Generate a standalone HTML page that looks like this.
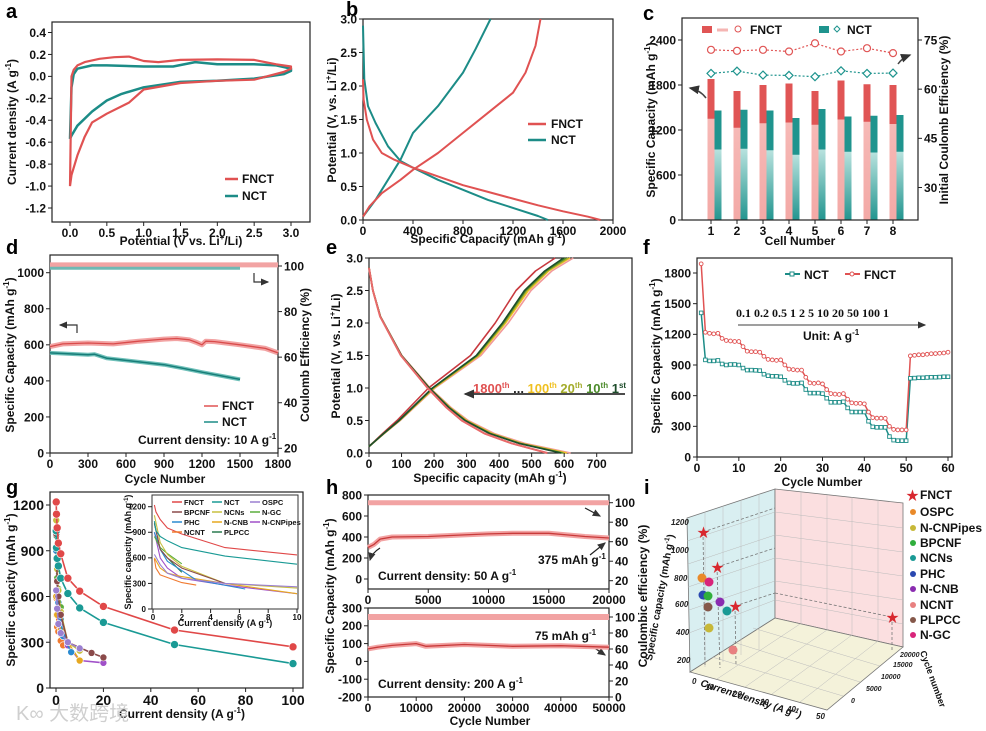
<!DOCTYPE html>
<html><head><meta charset="utf-8">
<style>
html,body{margin:0;padding:0;background:#fff;}
svg{display:block;font-family:"Liberation Sans","Noto Sans CJK SC",sans-serif;font-weight:bold;}
.t{font-size:12px;fill:#111;}
.s{font-size:9px;fill:#111;}
.p{font-size:20px;fill:#000;}
</style></head>
<body>
<svg id="fig" width="986" height="731" viewBox="0 0 986 731">
<defs>
<linearGradient id="tealg" x1="0" y1="0" x2="0" y2="1"><stop offset="0" stop-color="#b8e2de"/><stop offset="1" stop-color="#22958f"/></linearGradient>
<linearGradient id="pinkg" x1="0" y1="0" x2="0" y2="1"><stop offset="0" stop-color="#f6b9b6"/><stop offset="1" stop-color="#f3a9a6"/></linearGradient>
<marker id="arr" markerWidth="8" markerHeight="8" refX="6" refY="3" orient="auto"><path d="M0,0 L7,3 L0,6 z" fill="#333"/></marker>
</defs>
<!-- panel letters -->
<text class="p" x="6" y="18">a</text>
<text class="p" x="346" y="16">b</text>
<text class="p" x="643" y="20">c</text>
<text class="p" x="6" y="254">d</text>
<text class="p" x="326" y="254">e</text>
<text class="p" x="643" y="254">f</text>
<text class="p" x="6" y="494">g</text>
<text class="p" x="326" y="494">h</text>
<text class="p" x="644" y="494">i</text>

<!-- a titles -->
<text class="t" transform="translate(16,122) rotate(-90)" text-anchor="middle">Current density (A g<tspan dy="-5" font-size="8">-1</tspan><tspan dy="5">)</tspan></text>
<text class="t" x="181" y="245" text-anchor="middle">Potential (V vs. Li<tspan dy="-5" font-size="8">+</tspan><tspan dy="5">/Li)</tspan></text>
<line x1="225" y1="179" x2="238" y2="179" stroke="#e05252" stroke-width="2.5"/>
<text class="t" x="242" y="183">FNCT</text>
<line x1="225" y1="196" x2="238" y2="196" stroke="#1c8c87" stroke-width="2.5"/>
<text class="t" x="242" y="200">NCT</text>

<!-- b titles -->
<text class="t" transform="translate(336,120) rotate(-90)" text-anchor="middle">Potential (V, vs. Li<tspan dy="-5" font-size="8">+</tspan><tspan dy="5">/Li)</tspan></text>
<text class="t" x="488" y="243" text-anchor="middle">Specific Capacity (mAh g<tspan dy="-5" font-size="8">-1</tspan><tspan dy="5">)</tspan></text>
<line x1="528" y1="124" x2="546" y2="124" stroke="#e05252" stroke-width="2.5"/>
<text class="t" x="551" y="128">FNCT</text>
<line x1="528" y1="140" x2="546" y2="140" stroke="#1c8c87" stroke-width="2.5"/>
<text class="t" x="551" y="144">NCT</text>

<!-- c titles -->
<text class="t" transform="translate(655,120) rotate(-90)" text-anchor="middle">Specific Capacity (mAh g<tspan dy="-5" font-size="8">-1</tspan><tspan dy="5">)</tspan></text>
<text class="t" transform="translate(948,120) rotate(-90)" text-anchor="middle">Initial Coulomb Efficiency (%)</text>
<text class="t" x="800" y="245" text-anchor="middle">Cell Number</text>
<rect x="702" y="26" width="10" height="7" fill="#e05555"/>
<line x1="717" y1="30" x2="728" y2="30" stroke="#f5b5b3" stroke-width="3"/>
<circle cx="738" cy="29" r="3" fill="none" stroke="#e05555"/>
<text class="t" x="750" y="34">FNCT</text>
<rect x="819" y="26" width="10" height="7" fill="#1f948e"/>
<path d="M837,26 l3,3 l-3,3 l-3,-3 z" fill="none" stroke="#1f948e"/>
<text class="t" x="847" y="34">NCT</text>
<path d="M706,98 Q700,90 690,88" fill="none" stroke="#444" stroke-width="1.5" marker-end="url(#arr)"/>
<path d="M898,64 Q902,58 910,55" fill="none" stroke="#444" stroke-width="1.5" marker-end="url(#arr)"/>

<!-- d titles -->
<text class="t" transform="translate(14,355) rotate(-90)" text-anchor="middle">Specific Capacity (mAh g<tspan dy="-5" font-size="8">-1</tspan><tspan dy="5">)</tspan></text>
<text class="t" transform="translate(309,355) rotate(-90)" text-anchor="middle">Coulomb Efficiency (%)</text>
<text class="t" x="165" y="483" text-anchor="middle">Cycle Number</text>
<line x1="204" y1="406" x2="218" y2="406" stroke="#e05252" stroke-width="1.5"/>
<text class="t" x="222" y="410">FNCT</text>
<line x1="204" y1="422" x2="218" y2="422" stroke="#1c8c87" stroke-width="1.5"/>
<text class="t" x="222" y="426">NCT</text>
<text class="t" x="138" y="444">Current density: 10 A g<tspan dy="-5" font-size="8">-1</tspan></text>
<path d="M77,333 L77,325 L60,325" fill="none" stroke="#333" stroke-width="1.2" marker-end="url(#arr)"/>
<path d="M254,273 L254,282 L268,282" fill="none" stroke="#333" stroke-width="1.2" marker-end="url(#arr)"/>

<!-- e titles -->
<text class="t" transform="translate(340,356) rotate(-90)" text-anchor="middle">Potential (V, vs. Li<tspan dy="-5" font-size="8">+</tspan><tspan dy="5">/Li)</tspan></text>
<text class="t" x="490" y="482" text-anchor="middle">Specific capacity (mAh g<tspan dy="-5" font-size="8">-1</tspan><tspan dy="5">)</tspan></text>
<text x="473" y="393" font-size="13"><tspan fill="#e05252">1800<tspan dy="-5" font-size="8">th</tspan></tspan><tspan dy="5" fill="#222"> ... </tspan><tspan fill="#f0c020">100<tspan dy="-5" font-size="8">th</tspan></tspan><tspan dy="5" fill="#a4ac2c"> 20<tspan dy="-5" font-size="8">th</tspan></tspan><tspan dy="5" fill="#4b8a2a"> 10<tspan dy="-5" font-size="8">th</tspan></tspan><tspan dy="5" fill="#1e4d2b"> 1<tspan dy="-5" font-size="8">st</tspan></tspan></text>
<line x1="625" y1="394" x2="465" y2="394" stroke="#111" stroke-width="1.5" marker-end="url(#arr)"/>

<!-- f titles -->
<text class="t" transform="translate(660,356) rotate(-90)" text-anchor="middle">Specific Capacity (mAh g<tspan dy="-5" font-size="8">-1</tspan><tspan dy="5">)</tspan></text>
<text class="t" x="822" y="486" text-anchor="middle">Cycle Number</text>
<line x1="785" y1="274" x2="800" y2="274" stroke="#1c8c87" stroke-width="2"/>
<rect x="790" y="272" width="4" height="4" fill="#fff" stroke="#1c8c87"/>
<text class="t" x="804" y="279">NCT</text>
<line x1="845" y1="274" x2="860" y2="274" stroke="#e05252" stroke-width="2"/>
<circle cx="852" cy="274" r="2" fill="#fff" stroke="#e05252"/>
<text class="t" x="864" y="279">FNCT</text>
<text x="736" y="317" font-family="Liberation Serif,serif" font-size="12" fill="#111">0.1 0.2 0.5 1 2 5 10 20 50 100 1</text>
<line x1="738" y1="325" x2="925" y2="325" stroke="#666" stroke-width="1.2" marker-end="url(#arr)"/>
<text class="t" x="803" y="340">Unit: A g<tspan dy="-5" font-size="8">-1</tspan></text>

<!-- g titles -->
<text class="t" transform="translate(15,590) rotate(-90)" text-anchor="middle" font-size="13">Specific capacity (mAh g<tspan dy="-5" font-size="8">-1</tspan><tspan dy="5">)</tspan></text>
<text class="t" x="182" y="718" text-anchor="middle" font-size="13">Current density (A g<tspan dy="-5" font-size="8">-1</tspan><tspan dy="5">)</tspan></text>
<text x="16" y="720" font-size="20" fill="#cfcfcf" font-weight="normal">K∞ 大数跨境</text>
<text class="s" transform="translate(131,552) rotate(-90)" text-anchor="middle" font-size="8">Specific capacity (mAh g<tspan dy="-3" font-size="6">-1</tspan><tspan dy="3">)</tspan></text>
<text class="s" x="225" y="626" text-anchor="middle" font-size="8">Current density (A g<tspan dy="-3" font-size="6">-1</tspan><tspan dy="3">)</tspan></text>

<!-- h titles -->
<text class="t" transform="translate(334,596) rotate(-90)" text-anchor="middle">Specific Capacity (mAh g<tspan dy="-5" font-size="8">-1</tspan><tspan dy="5">)</tspan></text>
<text class="t" transform="translate(647,596) rotate(-90)" text-anchor="middle">Coulombic efficiency (%)</text>
<text class="t" x="490" y="725" text-anchor="middle">Cycle Number</text>
<text class="t" x="378" y="580">Current density: 50 A g<tspan dy="-5" font-size="8">-1</tspan></text>
<text class="t" x="538" y="564">375 mAh g<tspan dy="-5" font-size="8">-1</tspan></text>
<text class="t" x="378" y="688">Current density: 200 A g<tspan dy="-5" font-size="8">-1</tspan></text>
<text class="t" x="535" y="640">75 mAh g<tspan dy="-5" font-size="8">-1</tspan></text>
<line x1="590" y1="555" x2="605" y2="543" stroke="#222" stroke-width="1.2" marker-end="url(#arr)"/>
<line x1="590" y1="645" x2="605" y2="655" stroke="#222" stroke-width="1.2" marker-end="url(#arr)"/>
<path d="M380,548 Q372,553 370,560" fill="none" stroke="#222" stroke-width="1.2" marker-end="url(#arr)"/>
<line x1="585" y1="508" x2="600" y2="516" stroke="#222" stroke-width="1.2" marker-end="url(#arr)"/>

<!-- i 3D chart -->
<g>
<polygon points="687,518 775,489 775,618 690,672" fill="#d9eff1" stroke="#777" stroke-width="0.8"/>
<polygon points="775,489 903,503 903,647 775,618" fill="#fbdfe0" stroke="#777" stroke-width="0.8"/>
<polygon points="775,618 903,647 827,710 690,672" fill="#f4f2da" stroke="#777" stroke-width="0.8"/>
<g stroke="#bbb" stroke-width="0.5">
<line x1="687" y1="541" x2="775" y2="512"/><line x1="688" y1="564" x2="775" y2="535"/><line x1="688" y1="587" x2="775" y2="558"/><line x1="689" y1="610" x2="775" y2="581"/><line x1="689" y1="633" x2="775" y2="600"/>
<line x1="705" y1="512" x2="705" y2="667"/><line x1="723" y1="506" x2="723" y2="662"/><line x1="741" y1="500" x2="741" y2="655"/><line x1="759" y1="494" x2="759" y2="650"/>
<line x1="775" y1="512" x2="903" y2="528"/><line x1="775" y1="535" x2="903" y2="552"/><line x1="775" y1="558" x2="903" y2="576"/><line x1="775" y1="581" x2="903" y2="600"/><line x1="775" y1="600" x2="903" y2="624"/>
<line x1="801" y1="492" x2="801" y2="624"/><line x1="827" y1="495" x2="827" y2="630"/><line x1="852" y1="497" x2="852" y2="635"/><line x1="878" y1="500" x2="878" y2="641"/>
<line x1="800" y1="624" x2="717" y2="679"/><line x1="827" y1="630" x2="745" y2="687"/><line x1="852" y1="635" x2="772" y2="694"/><line x1="878" y1="641" x2="800" y2="702"/>
<line x1="753" y1="628" x2="880" y2="666"/><line x1="733" y1="642" x2="860" y2="682"/><line x1="712" y1="657" x2="843" y2="696"/>
</g>
<g stroke="#777" stroke-width="0.8" stroke-dasharray="3,2" fill="none">
<line x1="703" y1="532" x2="775" y2="508"/><line x1="703" y1="532" x2="705" y2="665"/>
<line x1="717" y1="567" x2="775" y2="548"/><line x1="717" y1="567" x2="720" y2="668"/>
<line x1="735" y1="606" x2="775" y2="593"/><line x1="735" y1="606" x2="736" y2="665"/>
<line x1="775" y1="593" x2="892" y2="617"/><line x1="892" y1="617" x2="892" y2="650"/>
</g>
<g font-size="13" fill="#d8282f">
<text x="697" y="537">★</text><text x="711" y="572">★</text><text x="729" y="611">★</text><text x="886" y="622">★</text>
</g>
<circle cx="702" cy="578" r="4.5" fill="#e98a2a"/>
<circle cx="709" cy="582" r="4.5" fill="#d8247a"/>
<circle cx="703" cy="595" r="4.5" fill="#2a48b0"/>
<circle cx="708" cy="596" r="4.5" fill="#2fae3c"/>
<circle cx="720" cy="602" r="4.5" fill="#8a2cb0"/>
<circle cx="708" cy="607" r="4.5" fill="#85584a"/>
<circle cx="727" cy="611" r="4.5" fill="#1a9a95"/>
<circle cx="709" cy="628" r="4.5" fill="#c7b838"/>
<circle cx="733" cy="650" r="4.5" fill="#e88080"/>
<g font-size="8" fill="#222" font-style="italic">
<text x="671" y="525">1200</text><text x="671" y="553">1000</text><text x="674" y="581">800</text><text x="675" y="607">600</text><text x="676" y="635">400</text><text x="677" y="663">200</text>
</g>
<text transform="translate(663,598) rotate(-80)" text-anchor="middle" font-size="10" fill="#111">Specific capacity (mAh g<tspan dy="-4" font-size="7">-1</tspan><tspan dy="4">)</tspan></text>
<text transform="translate(750,702) rotate(18)" text-anchor="middle" font-size="10" font-style="italic" fill="#111">Current density (A g<tspan dy="-4" font-size="7">-1</tspan><tspan dy="4">)</tspan></text>
<g font-size="8" fill="#222" font-style="italic">
<text x="692" y="684">0</text><text x="705" y="690">10</text><text x="733" y="697">20</text><text x="760" y="705">30</text><text x="787" y="712">40</text><text x="816" y="719">50</text>
</g>
<g font-size="7" fill="#222" font-style="italic">
<text x="900" y="657">20000</text><text x="893" y="667">15000</text><text x="881" y="679">10000</text><text x="866" y="691">5000</text><text x="851" y="703">0</text>
</g>
<text transform="translate(930,680) rotate(70)" text-anchor="middle" font-size="9" fill="#111">Cycle number</text>
<g font-size="12" fill="#111">
<text x="906" y="500" fill="#d8282f" font-size="13">★</text><text x="920" y="499">FNCT</text>
<circle cx="913" cy="512" r="3" fill="#e98a2a"/><text x="920" y="516">OSPC</text>
<circle cx="913" cy="528" r="3" fill="#c7b838"/><text x="920" y="532">N-CNPipes</text>
<circle cx="913" cy="543" r="3" fill="#2fae3c"/><text x="920" y="547">BPCNF</text>
<circle cx="913" cy="558" r="3" fill="#1a9a95"/><text x="920" y="562">NCNs</text>
<circle cx="913" cy="574" r="3" fill="#2a48b0"/><text x="920" y="578">PHC</text>
<circle cx="913" cy="589" r="3" fill="#8a2cb0"/><text x="920" y="593">N-CNB</text>
<circle cx="913" cy="605" r="3" fill="#e88080"/><text x="920" y="609">NCNT</text>
<circle cx="913" cy="620" r="3" fill="#85584a"/><text x="920" y="624">PLPCC</text>
<circle cx="913" cy="635" r="3" fill="#d8247a"/><text x="920" y="639">N-GC</text>
</g>
</g>
</svg>
<script>
// ---------- DATA ----------
const aFnctV=[0,0.02,0.05,0.1,0.2,0.4,0.6,0.8,1.0,1.2,1.5,2.0,2.5,2.8,3.0,3.0,2.9,2.5,2.0,1.5,1.0,0.8,0.5,0.3,0.2,0.1,0.02,0];
const aFnctI=[-1.0,0,0.06,0.1,0.13,0.16,0.175,0.18,0.14,0.13,0.15,0.155,0.15,0.11,0.09,0.07,0.04,-0.03,-0.04,-0.06,-0.12,-0.24,-0.34,-0.42,-0.55,-0.72,-0.9,-1.0];
const aNctV=[0,0.02,0.05,0.1,0.3,0.5,1.0,1.4,1.7,2.0,2.5,2.8,3.0,3.0,2.9,2.5,2.0,1.5,1.0,0.7,0.5,0.3,0.1,0.02,0];
const aNctI=[-0.57,-0.1,0.02,0.07,0.1,0.1,0.09,0.09,0.13,0.11,0.11,0.1,0.07,0.05,0.02,-0.02,-0.04,-0.05,-0.1,-0.16,-0.22,-0.32,-0.45,-0.54,-0.57];
const aYTicks=[0.4,0.2,0,-0.2,-0.4,-0.6,-0.8,-1.0,-1.2];
const aXTicks=[0,0.5,1,1.5,2,2.5,3];
const bFnctDisCap=[0,5,30,80,150,250,400,600,800,1000,1200,1400,1600,1800,1900];
const bFnctDisV=[2.1,1.8,1.5,1.2,1.0,0.9,0.78,0.65,0.52,0.42,0.32,0.22,0.13,0.05,0];
const bFnctChgCap=[0,50,150,300,400,600,800,1000,1200,1300,1380,1420];
const bFnctChgV=[0.05,0.2,0.4,0.6,0.75,1.0,1.3,1.6,1.9,2.2,2.6,3.0];
const bNctDisCap=[0,10,40,100,200,300,400,600,800,1000,1200,1400,1480];
const bNctDisV=[2.9,2.1,1.7,1.45,1.1,0.88,0.78,0.6,0.45,0.3,0.18,0.06,0];
const bNctChgCap=[0,100,200,300,400,600,800,900,1020];
const bNctChgV=[0.05,0.3,0.6,0.9,1.3,1.7,2.2,2.55,3.0];
const bXTicks=[0,400,800,1200,1600,2000];
const bYTicks=[0,0.5,1,1.5,2,2.5,3];
const cCells=[1,2,3,4,5,6,7,8];
const cFnctDis=[1880,1720,1800,1820,1720,1860,1810,1800];
const cFnctChg=[1350,1230,1290,1300,1270,1340,1310,1280];
const cNctDis=[1460,1470,1460,1360,1480,1380,1390,1400];
const cNctChg=[940,950,930,870,940,910,900,910];
const cFnctIce=[72,71.7,72,71.5,74,71.5,72.5,71];
const cNctIce=[64.8,65.5,64.3,64.2,63.8,65.6,64.8,64.9];
const cLeftTicks=[0,600,1200,1800,2400];
const cRightTicks=[30,45,60,75];
const dFnctCyc=[0,100,300,500,700,900,1000,1100,1150,1200,1230,1300,1500,1700,1800];
const dFnctCap=[590,605,610,605,620,632,635,628,615,600,620,618,600,580,555];
const dNctCyc=[0,300,350,450,900,1050,1200,1500];
const dNctCap=[555,545,548,525,490,470,448,408];
const dFnctCE=[100.5,100.5];
const dNctCE=[99,99];
const dLeftTicks=[0,200,400,600,800,1000];
const dRightTicks=[20,40,60,80,100];
const dXTicks=[0,300,600,900,1200,1500,1800];
const eCycles=['500th','1800th','100th','20th','10th','1st'];
const eColors=['#f29a9a','#c8393f','#f0c020','#a4ac2c','#4b8a2a','#1e4d2b'];
const eChgV=[0.1,0.3,0.5,1.0,1.5,2.0,2.5,2.8,3.0];
const eChgCap=[
 [0,47,96,203,344,428,498,562,628],
 [0,42,86,183,312,388,452,512,572],
 [0,46,94,200,338,420,490,552,618],
 [0,46,93,198,335,416,485,548,612],
 [0,45,93,196,332,413,481,544,605],
 [0,45,92,195,330,410,478,540,598]];
const eDisV=[2.85,2.5,2.1,1.5,1.0,0.7,0.5,0.3,0.15,0];
const eDisCap=[
 [0,12,35,101,188,252,305,385,478,620],
 [0,12,34,98,180,238,285,355,438,548],
 [0,12,35,100,186,249,300,378,468,608],
 [0,12,35,100,186,248,298,375,465,600],
 [0,12,35,100,185,246,296,372,462,595],
 [0,12,35,100,185,245,295,370,460,590]];
const eXTicks=[0,100,200,300,400,500,600,700];
const eYTicks=[0,0.5,1,1.5,2,2.5,3];
const fFnct=[1890,1220,1210,1205,1210,1160,1140,1135,1130,1130,1080,1035,1030,1030,1025,985,955,950,945,950,900,860,855,850,850,780,725,720,725,715,660,620,615,612,620,565,530,525,525,520,440,385,380,380,378,300,270,265,265,265,990,995,1000,1000,1005,1010,1012,1015,1018,1025];
const fNct=[1410,950,940,940,945,910,900,905,905,900,870,850,850,848,845,810,795,790,790,785,750,725,720,720,725,660,625,625,625,620,575,535,535,535,540,480,440,440,440,440,350,295,290,290,290,200,165,160,160,160,770,772,775,775,778,780,780,782,785,785];
const fXTicks=[0,10,20,30,40,50,60];
const fYTicks=[0,300,600,900,1200,1500,1800];
const gNames=['FNCT','NCT','OSPC','BPCNF','NCNs','N-GC','PHC','N-CNB','N-CNPipes','NCNT','PLPCC'];
const gColors=['#e04848','#1a9a95','#9b7fd0','#8a4a4a','#c8c040','#5aae3c','#2a8ad0','#e6a820','#a050c8','#f07a30','#2a7a50'];
const gRates=[
 [0.1,0.2,0.5,1,2,5,10,20,50,100],
 [0.1,0.2,0.5,1,2,5,10,20,50,100],
 [0.1,0.5,1,2,5,10],
 [0.1,0.5,1,2,5,15,20],
 [0.1,0.5,1,2,5,10],
 [0.1,0.5,1,2],
 [0.1,0.5,1,2,3,6.4],
 [0.1,0.5,1,2,5,10],
 [0.1,0.5,1,2,5,10,20],
 [0.1,0.2,0.5,1,2,3],
 [0.1,0.5,1,2]];
const gCaps=[
 [1220,1140,1050,950,880,720,635,535,380,270],
 [1030,920,850,800,720,620,525,430,285,160],
 [640,520,420,360,300,260],
 [1010,700,600,480,300,230,200],
 [1100,780,640,500,300,245],
 [850,720,650,530],
 [900,700,560,450,340,235],
 [600,480,420,380,300,180],
 [900,600,480,360,280,180,165],
 [590,480,400,370,310,280],
 [1000,700,600,430]];
const gXTicks=[0,20,40,60,80,100];
const gYTicks=[0,300,600,900,1200];
const gInsetXTicks=[0,2,4,6,8,10];
const gInsetYTicks=[0,300,600,900,1200];
const hTopCyc=[0,500,1000,2000,5000,8000,10000,12000,15000,16500,18000,20000];
const hTopCap=[300,330,380,400,405,420,430,435,435,420,405,390];
const hTopCE=[100,100];
const hBotCyc=[0,2000,5000,10000,12000,20000,25000,30000,40000,50000];
const hBotCap=[70,80,90,100,85,95,90,85,88,80];
const hBotCE=[100,100];
const hTopXTicks=[0,5000,10000,15000,20000];
const hTopLeftTicks=[0,200,400,600,800];
const hTopRightTicks=[20,40,60,80,100];
const hBotXTicks=[0,10000,20000,30000,40000,50000];
const hBotLeftTicks=[-200,-100,0,100,200,300];
const hBotRightTicks=[0,20,40,60,80,100];

// ---------- HELPERS ----------
const NS='http://www.w3.org/2000/svg';
const svg=document.getElementById('fig');
function mk(tag,attrs){const e=document.createElementNS(NS,tag);for(const k in attrs)e.setAttribute(k,attrs[k]);svg.appendChild(e);return e;}
function lin(d0,d1,p0,p1){return v=>p0+(v-d0)*(p1-p0)/(d1-d0);}
function fmt(v,dec){return dec>0?v.toFixed(dec):String(v);}
function box(x0,y0,x1,y1,name){
  const r=mk('rect',{x:x0,y:y0,width:x1-x0,height:y1-y0,fill:'none',stroke:'#222','stroke-width':1.2});
  
  
}
function yAxis(x,sc,vals,side,name,dec,fs){
  fs=fs||12;
  vals.forEach(v=>{const y=sc(v);
    const l=mk('line',{x1:x,y1:y,x2:x+side*4,y2:y,stroke:'#222','stroke-width':1});
    
    
    const t=mk('text',{x:x+side*6,y:y+fs*0.36,'text-anchor':side<0?'end':'start','font-size':fs,fill:'#111'});
    t.textContent=fmt(v,dec);
    
    
  });
}
function xAxis(y,sc,vals,name,dec,fs){
  fs=fs||12;
  vals.forEach(v=>{const x=sc(v);
    const l=mk('line',{x1:x,y1:y,x2:x,y2:y+4,stroke:'#222','stroke-width':1});
    
    
    const t=mk('text',{x:x,y:y+fs+3,'text-anchor':'middle','font-size':fs,fill:'#111'});
    t.textContent=fmt(v,dec);
    
    
  });
}
function line(xs,ys,sx,sy,color,w,name,extra){
  const d=xs.map((x,i)=>(i?'L':'M')+sx(x).toFixed(1)+','+sy(ys[i]).toFixed(1)).join(' ');
  const p=mk('path',Object.assign({d:d,fill:'none',stroke:color,'stroke-width':w,'stroke-linejoin':'round'},extra||{}));
  
  
  return p;
}

// ---------- a ----------
{const sx=lin(0,3,70,291), sy=lin(0.4,-1.2,32.5,208);
box(52,22,310,222,'a-plot-area');
yAxis(52,sy,aYTicks,-1,'a-y-axis',1);
xAxis(222,sx,aXTicks,'a-x-axis',1);
line(aNctV,aNctI,sx,sy,'#1c8c87',2.5,'a-nct-cv-curve');
line(aFnctV,aFnctI,sx,sy,'#e05252',2.2,'a-fnct-cv-curve');}

// ---------- b ----------
{const sx=lin(0,2000,363,613), sy=lin(0,3,220,19);
box(363,19,613,220,'b-plot-area');
yAxis(363,sy,bYTicks,-1,'b-y-axis',1);
xAxis(220,sx,bXTicks,'b-x-axis',0);
line(bNctDisCap,bNctDisV,sx,sy,'#1c8c87',2,'b-nct-discharge');
line(bNctChgCap,bNctChgV,sx,sy,'#1c8c87',2,'b-nct-charge');
line(bFnctDisCap,bFnctDisV,sx,sy,'#e05252',2,'b-fnct-discharge');
line(bFnctChgCap,bFnctChgV,sx,sy,'#e05252',2,'b-fnct-charge');}

// ---------- c ----------
{const sx=lin(1,8,711,893), syL=lin(0,2400,220,40), syR=lin(30,75,187.5,40);
cCells.forEach((c,i)=>{const x=sx(c);
  const r1=mk('rect',{x:x-3.5,y:syL(cFnctDis[i]),width:7,height:syL(0)-syL(cFnctDis[i]),fill:'#e05555'});
  
  
  const r2=mk('rect',{x:x-3.5,y:syL(cFnctChg[i]),width:7,height:syL(0)-syL(cFnctChg[i]),fill:'url(#pinkg)'});
  
  
  const r3=mk('rect',{x:x+3.5,y:syL(cNctDis[i]),width:7,height:syL(0)-syL(cNctDis[i]),fill:'#1f948e'});
  
  
  const r4=mk('rect',{x:x+3.5,y:syL(cNctChg[i]),width:7,height:syL(0)-syL(cNctChg[i]),fill:'url(#tealg)'});
  
  
});
line(cCells,cFnctIce,sx,syR,'#e05555',1.2,'c-fnct-ice-line',{'stroke-dasharray':'2,2'});
line(cCells,cNctIce,sx,syR,'#1f948e',1.2,'c-nct-ice-line',{'stroke-dasharray':'2,2'});
cCells.forEach((c,i)=>{
  const m=mk('circle',{cx:sx(c),cy:syR(cFnctIce[i]),r:3.5,fill:'#fff',stroke:'#e05555','stroke-width':1.2});
  
  
  const x=sx(c),y=syR(cNctIce[i]);
  const d=mk('path',{d:`M${x},${y-4} L${x+4},${y} L${x},${y+4} L${x-4},${y} Z`,fill:'#fff',stroke:'#1f948e','stroke-width':1.2});
  
  
});
box(682,18,918,220,'c-plot-area');
yAxis(682,syL,cLeftTicks,-1,'c-left-y-axis',0);
yAxis(918,syR,cRightTicks,1,'c-right-y-axis',0);
xAxis(220,sx,cCells,'c-x-axis',0);}

// ---------- d ----------
{const sx=lin(0,1800,50,278), syL=lin(0,1000,453,272.7), syR=lin(20,100,448.3,266);
box(50,255,278,453,'d-plot-area');
line([0,1800],dFnctCE,sx,syR,'#f2a3a3',5,'d-fnct-ce-band');
line([0,1500],dNctCE,sx,syR,'#6fb8b3',3,'d-nct-ce-band');
line(dFnctCyc,dFnctCap,sx,syL,'#f2a3a3',5,'d-fnct-capacity-band');
line(dFnctCyc,dFnctCap,sx,syL,'#d94b4b',1.3,'d-fnct-capacity');
line(dNctCyc,dNctCap,sx,syL,'#6fc0b9',4,'d-nct-capacity-band');
line(dNctCyc,dNctCap,sx,syL,'#167d78',1.5,'d-nct-capacity');
yAxis(50,syL,dLeftTicks,-1,'d-left-y-axis',0);
yAxis(278,syR,dRightTicks,1,'d-right-y-axis',0);
xAxis(453,sx,dXTicks,'d-x-axis',0);}

// ---------- e ----------
{const sx=lin(0,700,369,596.7), sy=lin(0,3,453,258);
box(369,258,632,453,'e-plot-area');
eCycles.forEach((c,i)=>{
  line(eChgCap[i],eChgV,sx,sy,eColors[i],1.6,'e-charge-'+c);
  line(eDisCap[i],eDisV,sx,sy,eColors[i],1.6,'e-discharge-'+c);
});
line(eDisCap[1],eDisV,sx,sy,'#e86a6a',2,'e-discharge-overlay');
yAxis(369,sy,eYTicks,-1,'e-y-axis',1);
xAxis(453,sx,eXTicks,'e-x-axis',0);}

// ---------- f ----------
{const sx=lin(0,60,697,948), sy=lin(0,1800,457,273);
const cyc=fFnct.map((v,i)=>i+1);
box(697,258,952,457,'f-plot-area');
line(cyc,fNct,sx,sy,'#1c8c87',1.5,'f-nct-line');
line(cyc,fFnct,sx,sy,'#e05252',1.5,'f-fnct-line');
cyc.forEach((c,i)=>{
  const q=mk('rect',{x:sx(c)-1.8,y:sy(fNct[i])-1.8,width:3.6,height:3.6,fill:'#fff',stroke:'#1c8c87','stroke-width':0.9});
  
  
  const o=mk('circle',{cx:sx(c),cy:sy(fFnct[i]),r:1.9,fill:'#fff',stroke:'#e05252','stroke-width':0.9});
  
  
});
yAxis(697,sy,fYTicks,-1,'f-y-axis',0);
xAxis(457,sx,fXTicks,'f-x-axis',0);}

// ---------- g ----------
{const sx=lin(0,100,56,293), sy=lin(0,1200,688,505);
box(50,492,303,688,'g-plot-area');
for(let k=gNames.length-1;k>=0;k--){
  line(gRates[k],gCaps[k],sx,sy,gColors[k],1.6,'g-series-'+gNames[k]);
  gRates[k].forEach((r,i)=>{
    const c=mk('circle',{cx:sx(r),cy:sy(gCaps[k][i]),r:k<2?4:3.5,fill:gColors[k],stroke:'#fff','stroke-width':0.6});
    
    
  });
}
yAxis(50,sy,gYTicks,-1,'g-y-axis',0,14);
xAxis(688,sx,gXTicks,'g-x-axis',0,14);
const ix=lin(0,10,153,297), iy=lin(0,1200,609,506.7);
const bg=mk('rect',{x:152,y:495,width:146,height:114,fill:'#fff',stroke:'#333','stroke-width':1});


for(let k=gNames.length-1;k>=0;k--){
  const xs=[],ys=[];
  gRates[k].forEach((r,i)=>{if(r<=10){xs.push(r);ys.push(gCaps[k][i]);}});
  line(xs,ys,ix,iy,gColors[k],1.1,'g-inset-series-'+gNames[k]);
}
yAxis(152,iy,gInsetYTicks,-1,'g-inset-y-axis',0,8);
xAxis(609,ix,gInsetXTicks,'g-inset-x-axis',0,8);
gNames.forEach((n,k)=>{
  const col=k%3, row=Math.floor(k/3);
  const lx=[172,212,250][col], ly=502+row*10;
  const l=mk('line',{x1:lx,y1:ly,x2:lx+10,y2:ly,stroke:gColors[k],'stroke-width':1.5});
  
  
  const t=mk('text',{x:lx+12,y:ly+3,'font-size':7.5,fill:'#111'});
  t.textContent=n;
  
  
});}

// ---------- h ----------
{const sx=lin(0,20000,368,609), syL=lin(0,800,579,495), syR=lin(20,100,580.7,502.7);
box(368,495,609,589,'h-top-plot-area');
line([0,20000],hTopCE,sx,syR,'#f2a3a3',5,'h-top-ce-band');
line(hTopCyc,hTopCap,sx,syL,'#f2a3a3',5,'h-top-capacity-band');
line(hTopCyc,hTopCap,sx,syL,'#c83a3a',1.3,'h-top-capacity');
yAxis(368,syL,hTopLeftTicks,-1,'h-top-left-y-axis',0);
yAxis(609,syR,hTopRightTicks,1,'h-top-right-y-axis',0);
xAxis(589,sx,hTopXTicks,'h-top-x-axis',0);
const bx=lin(0,50000,368,609), byL=lin(-200,300,697,608), byR=lin(0,100,697,617);
box(368,608,609,697,'h-bottom-plot-area');
line([0,50000],hBotCE,bx,byR,'#f2a3a3',6,'h-bottom-ce-band');
line(hBotCyc,hBotCap,bx,byL,'#f2a3a3',5,'h-bottom-capacity-band');
line(hBotCyc,hBotCap,bx,byL,'#c83a3a',1.3,'h-bottom-capacity');
yAxis(368,byL,hBotLeftTicks,-1,'h-bottom-left-y-axis',0);
yAxis(609,byR,hBotRightTicks,1,'h-bottom-right-y-axis',0);
xAxis(697,bx,hBotXTicks,'h-bottom-x-axis',0);}
</script>
</body></html>
